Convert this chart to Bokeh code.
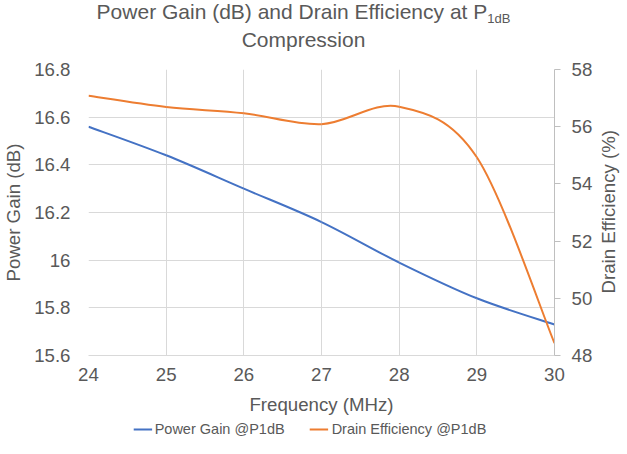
from bokeh.plotting import figure
from bokeh.layouts import column, row
from bokeh.models import (Range1d, LinearAxis, FixedTicker, Legend, LegendItem, Div,
                          CustomJSTickFormatter, ColumnDataSource)
from bokeh.embed import file_html
from bokeh.resources import INLINE

freq = [24, 25, 26, 27, 28, 29, 30]
power_gain = [16.56, 16.44, 16.30, 16.16, 15.99, 15.84, 15.73]
drain_eff = [57.08, 56.69, 56.47, 56.09, 56.70, 54.93, 48.43]
freq_ticks = [24, 25, 26, 27, 28, 29, 30]
gain_ticks = [15.6, 15.8, 16.0, 16.2, 16.4, 16.6, 16.8]
eff_ticks = [48, 50, 52, 54, 56, 58]
series_names = ["Power Gain @P1dB", "Drain Efficiency @P1dB"]
series_colors = ["#4472C4", "#ED7D31"]

GRAY = "#595959"
FONT = "Liberation Sans"


def smooth_segments(xs, ys, t=1 / 6):
    n = len(xs)
    d = {k: [] for k in ("x0", "y0", "x1", "y1", "cx0", "cy0", "cx1", "cy1")}
    for i in range(n - 1):
        ip = max(i - 1, 0)
        inn = min(i + 2, n - 1)
        d["x0"].append(xs[i]); d["y0"].append(ys[i])
        d["x1"].append(xs[i + 1]); d["y1"].append(ys[i + 1])
        d["cx0"].append(xs[i] + (xs[i + 1] - xs[ip]) * t)
        d["cy0"].append(ys[i] + (ys[i + 1] - ys[ip]) * t)
        d["cx1"].append(xs[i + 1] - (xs[inn] - xs[i]) * t)
        d["cy1"].append(ys[i + 1] - (ys[inn] - ys[i]) * t)
    return ColumnDataSource(d)


title_html = (
    '<div style="width:619px;box-sizing:border-box;padding-right:12px;margin:-2px 0 0 0;'
    'text-align:center;font-family:\'Liberation Sans\';font-size:21px;line-height:28px;'
    'color:%s;">Power Gain (dB) and Drain Efficiency at P'
    '<sub style="font-size:13px;vertical-align:-4px;line-height:0;">1dB</sub>'
    '<br>Compression</div>' % GRAY
)
title_div = Div(text=title_html, width=619, height=57, margin=0)

right_title = Div(text=(
    '<div style="margin:12px 0 0 0;height:286px;width:24px;box-sizing:border-box;'
    'padding-left:5px;display:flex;align-items:center;justify-content:center;">'
    '<span style="writing-mode:vertical-rl;transform:rotate(180deg);white-space:nowrap;'
    'font-family:\'Liberation Sans\';font-size:18.67px;color:%s;">'
    'Drain Efficiency (%%)</span></div>' % GRAY), width=24, height=363, margin=0)

p = figure(width=595, height=363, output_backend="svg", toolbar_location=None,
           x_range=Range1d(24, 30), y_range=Range1d(15.6, 16.8),
           min_border_left=83, min_border_right=41, min_border_top=12, min_border_bottom=65)
p.outline_line_color = None
p.background_fill_color = "white"
p.border_fill_color = "white"
p.extra_y_ranges = {"eff": Range1d(48, 58)}

# bottom axis
xa = p.xaxis[0]
xa.ticker = FixedTicker(ticks=freq_ticks)
xa.axis_line_color = "#D9D9D9"
xa.major_tick_line_color = None
xa.minor_tick_line_color = None
xa.major_tick_out = 0
xa.major_tick_in = 0
xa.major_label_standoff = 12
xa.major_label_text_font = FONT
xa.major_label_text_font_size = "18.67px"
xa.major_label_text_color = GRAY
xa.axis_label = "Frequency (MHz)"
xa.axis_label_standoff = 10
xa.axis_label_text_font = FONT
xa.axis_label_text_font_size = "18.67px"
xa.axis_label_text_font_style = "normal"
xa.axis_label_text_color = GRAY

# left axis
ya = p.yaxis[0]
ya.ticker = FixedTicker(ticks=gain_ticks)
ya.formatter = CustomJSTickFormatter(code="return String(Number(tick.toFixed(1)));")
ya.axis_line_color = None
ya.major_tick_line_color = None
ya.minor_tick_line_color = None
ya.major_tick_out = 0
ya.major_tick_in = 0
ya.major_label_standoff = 18
ya.major_label_text_font = FONT
ya.major_label_text_font_size = "18.67px"
ya.major_label_text_color = GRAY
ya.axis_label = "Power Gain (dB)"
ya.axis_label_standoff = 7
ya.axis_label_text_font = FONT
ya.axis_label_text_font_size = "18.67px"
ya.axis_label_text_font_style = "normal"
ya.axis_label_text_color = GRAY

# right axis
ra = LinearAxis(y_range_name="eff", ticker=FixedTicker(ticks=eff_ticks))
ra.axis_line_color = "#BFBFBF"
ra.major_tick_line_color = "#BFBFBF"
ra.minor_tick_line_color = None
ra.major_tick_in = 0
ra.major_tick_out = 6
ra.major_label_standoff = 11
ra.major_label_text_font = FONT
ra.major_label_text_font_size = "18.67px"
ra.major_label_text_color = GRAY
p.add_layout(ra, "right")

p.xgrid.grid_line_color = "#D9D9D9"
p.ygrid.grid_line_color = "#D9D9D9"
p.xgrid.grid_line_width = 1
p.ygrid.grid_line_width = 1

p.bezier(x0="x0", y0="y0", x1="x1", y1="y1", cx0="cx0", cy0="cy0",
         cx1="cx1", cy1="cy1", source=smooth_segments(freq, power_gain),
         line_color=series_colors[0], line_width=2)
p.bezier(x0="x0", y0="y0", x1="x1", y1="y1", cx0="cx0", cy0="cy0",
         cx1="cx1", cy1="cy1", source=smooth_segments(freq, drain_eff),
         line_color=series_colors[1], line_width=2, y_range_name="eff")

# legend strip (its line renderers fall outside its own ranges, only the legend shows)
lf = figure(width=619, height=18, output_backend="svg", toolbar_location=None,
            x_range=Range1d(0, 1), y_range=Range1d(0, 1),
            x_axis_type=None, y_axis_type=None,
            min_border_left=0, min_border_right=0, min_border_top=0, min_border_bottom=0)
lf.outline_line_color = None
lf.grid.visible = False
lf.background_fill_color = "white"
lf.border_fill_color = "white"
items = []
for name, col, vals in zip(series_names, series_colors, [power_gain, drain_eff]):
    r = lf.line(x=freq, y=vals, line_color=col, line_width=2)
    items.append(LegendItem(label=name, renderers=[r]))
legend = Legend(items=items, orientation="horizontal", location="center",
                glyph_width=19, glyph_height=14, label_height=14, label_standoff=3,
                spacing=25, padding=0, margin=0,
                border_line_color=None, background_fill_alpha=0,
                label_text_font=FONT, label_text_font_size="14.5px",
                label_text_color=GRAY)
lf.add_layout(legend, "center")

layout = column(title_div, row(p, right_title, spacing=0), lf, spacing=0)
open("out.html", "w").write(file_html(layout, INLINE))
